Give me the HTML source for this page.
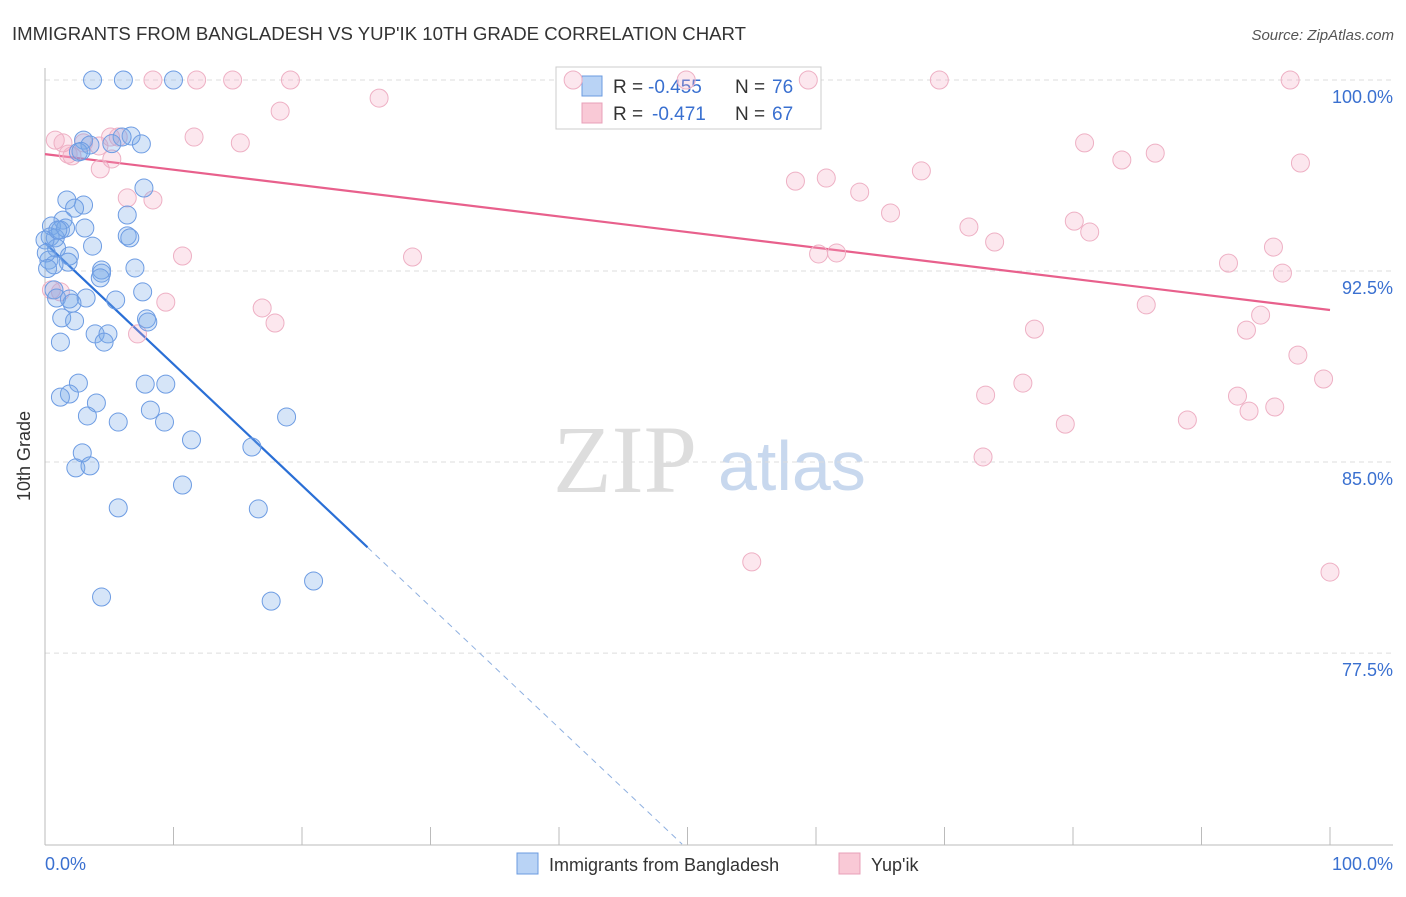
<!DOCTYPE html>
<html><head><meta charset="utf-8"><style>
body{margin:0;background:#fff;font-family:"Liberation Sans",sans-serif}
</style></head><body>
<svg id="c" width="1406" height="892" xmlns="http://www.w3.org/2000/svg" font-family="Liberation Sans, sans-serif">
<text x="12" y="40" font-size="18.6" fill="#333">IMMIGRANTS FROM BANGLADESH VS YUP'IK 10TH GRADE CORRELATION CHART</text>
<text x="1394" y="40" font-size="15" fill="#555" text-anchor="end" font-style="italic">Source: ZipAtlas.com</text>
<text x="30" y="456" font-size="18" fill="#333" text-anchor="middle" transform="rotate(-90 30 456)">10th Grade</text>
<g><text x="553" y="492" font-size="96" fill="#ddd" font-family="Liberation Serif, serif">ZIP</text><text x="718" y="490" font-size="70" fill="#c8d8ee">atlas</text></g>
<g id="grid"></g><g id="axes"></g>
<g>
<rect x="556" y="67" width="265" height="62" fill="#fff" stroke="#ccc"/>
<rect x="582" y="76" width="20" height="20" fill="#b9d3f5" stroke="#6b9be0"/>
<rect x="582" y="103" width="20" height="20" fill="#f9c9d6" stroke="#e8a0b8"/>
<text x="613" y="93" font-size="19" fill="#333">R =</text><text x="648" y="93" font-size="19" fill="#3a70d0">-0.455</text>
<text x="735" y="93" font-size="19" fill="#333">N =</text><text x="772" y="93" font-size="19" fill="#3a70d0">76</text>
<text x="613" y="120" font-size="19" fill="#333">R =</text><text x="652" y="120" font-size="19" fill="#3a70d0">-0.471</text>
<text x="735" y="120" font-size="19" fill="#333">N =</text><text x="772" y="120" font-size="19" fill="#3a70d0">67</text>
</g>
<g id="lines"></g><g id="pts"></g>
<g>
<rect x="517" y="853" width="21" height="21" fill="#b9d3f5" stroke="#6b9be0"/>
<text x="549" y="871" font-size="18" fill="#333">Immigrants from Bangladesh</text>
<rect x="839" y="853" width="21" height="21" fill="#f9c9d6" stroke="#e8a0b8"/>
<text x="871" y="871" font-size="18" fill="#333">Yup'ik</text>
</g>
</svg>
<script>
const yTicks=[100,92.5,85,77.5];
const yTickLabels=["100.0%","92.5%","85.0%","77.5%"];
const blueX=[3.7,6.1,10.0,3.0,6.7,6.0,7.5,3.5,2.6,7.7,1.7,3.0,2.3,6.4,1.4,0.5,1.2,3.1,0.4,0.8,3.7,6.4,6.6,0.9,1.9,0.3,1.8,0.7,4.4,4.4,7.0,0.7,7.6,0.9,1.9,3.2,2.1,5.5,1.3,2.3,7.9,8.0,1.2,3.9,4.9,4.6,2.6,7.8,9.4,1.9,1.2,4.0,8.2,3.3,5.7,9.3,18.8,11.4,16.1,2.9,2.4,3.5,10.7,5.7,16.6,20.9,4.4,17.6,0,0.1,1.6,4.3,1.0,0.2,2.8,5.2];
const blueY=[100,100,100,97.64,97.8,97.76,97.49,97.45,97.17,95.76,95.29,95.09,94.97,94.7,94.5,94.27,94.11,94.19,93.84,93.8,93.48,93.88,93.8,93.4,93.09,92.93,92.85,92.74,92.54,92.42,92.62,91.76,91.68,91.44,91.4,91.44,91.24,91.36,90.66,90.54,90.62,90.5,89.71,90.03,90.03,89.71,88.1,88.06,88.06,87.67,87.55,87.32,87.04,86.81,86.57,86.57,86.77,85.87,85.59,85.36,84.77,84.85,84.1,83.2,83.16,80.33,79.7,79.54,93.72,93.21,94.19,92.23,94.11,92.6,97.2,97.5];
const pinkX=[8.4,11.8,14.6,19.1,41.1,49.9,59.4,69.6,96.9,26.0,18.3,0.8,1.4,5.1,5.7,11.6,15.2,3.0,4.2,2.1,1.8,5.2,4.3,8.4,6.4,10.7,9.4,16.9,17.9,7.2,28.6,58.4,60.8,63.4,65.8,68.2,71.9,73.9,80.9,83.8,86.4,97.7,80.1,81.3,95.6,92.1,96.3,85.7,77.0,93.5,94.6,97.5,76.1,73.2,99.5,92.8,93.7,95.7,88.9,79.4,73.0,55.0,100,60.2,61.6,0.5,1.2];
const pinkY=[100,100,100,100,100,100,100,100,100,99.29,98.78,97.64,97.53,97.76,97.76,97.76,97.53,97.53,97.41,97.02,97.09,96.9,96.51,95.29,95.37,93.09,91.28,91.05,90.46,90.03,93.05,96.03,96.15,95.6,94.78,96.43,94.23,93.64,97.53,96.86,97.13,96.74,94.46,94.03,93.44,92.81,92.42,91.17,90.22,90.18,90.77,89.2,88.1,87.63,88.26,87.59,87.0,87.16,86.65,86.49,85.2,81.08,80.68,93.17,93.21,91.76,91.68];
const blueTrend=[93.6,-0.476];
const pinkTrend=[97.09,-0.0612];
const NS='http://www.w3.org/2000/svg';
const X=v=>45+v*12.85, Y=v=>80+(100-v)*25.47;
function mk(tag,attrs,parent){const e=document.createElementNS(NS,tag);for(const k in attrs)e.setAttribute(k,attrs[k]);document.getElementById(parent).appendChild(e);return e;}
yTicks.forEach((t,i)=>{
 let g=mk('line',{x1:45,x2:1393,y1:Y(t),y2:Y(t),stroke:'#ddd','stroke-dasharray':'5,4'},'grid');
 
 
 let l=mk('text',{x:1393,y:Y(t)+23,'font-size':18,fill:'#3a70d0','text-anchor':'end'},'grid');
 l.textContent=yTickLabels[i];
 
 
});
let ax=mk('line',{x1:45,x2:45,y1:68,y2:845,stroke:'#bbb'},'axes');


let bx=mk('line',{x1:45,x2:1393,y1:845,y2:845,stroke:'#bbb'},'axes');


for(let i=0;i<=10;i++){let t=mk('line',{x1:X(i*10),x2:X(i*10),y1:827,y2:845,stroke:'#bbb'},'axes');
 
 }
let xl=mk('text',{x:45,y:870,'font-size':18,fill:'#3a70d0'},'axes');xl.textContent='0.0%';


let xr=mk('text',{x:1393,y:870,'font-size':18,fill:'#3a70d0','text-anchor':'end'},'axes');xr.textContent='100.0%';


function pts(xs,ys,fill,stroke,name){xs.forEach((x,i)=>{let c=mk('circle',{cx:X(x),cy:Y(ys[i]),r:9,fill:fill,stroke:stroke,'stroke-width':1},'pts');
 
 });}
pts(pinkX,pinkY,'rgba(244,170,195,0.28)','#eeb0c4','yupik-point');
pts(blueX,blueY,'rgba(120,168,232,0.3)','#6d9ce3','bangladesh-point');
const bEnd=25.1, bZero=(70-blueTrend[0])/blueTrend[1];
let b1=mk('line',{x1:X(0),y1:Y(blueTrend[0]),x2:X(bEnd),y2:Y(blueTrend[0]+blueTrend[1]*bEnd),stroke:'#2a6fd6','stroke-width':2.2},'lines');


let b2=mk('line',{x1:X(bEnd),y1:Y(blueTrend[0]+blueTrend[1]*bEnd),x2:X(bZero),y2:Y(70),stroke:'#8fb0e0','stroke-width':1,'stroke-dasharray':'6,5'},'lines');


let p1=mk('line',{x1:X(0),y1:Y(pinkTrend[0]),x2:X(100),y2:Y(pinkTrend[0]+pinkTrend[1]*100),stroke:'#e8608c','stroke-width':2.2},'lines');


</script>
</body></html>
